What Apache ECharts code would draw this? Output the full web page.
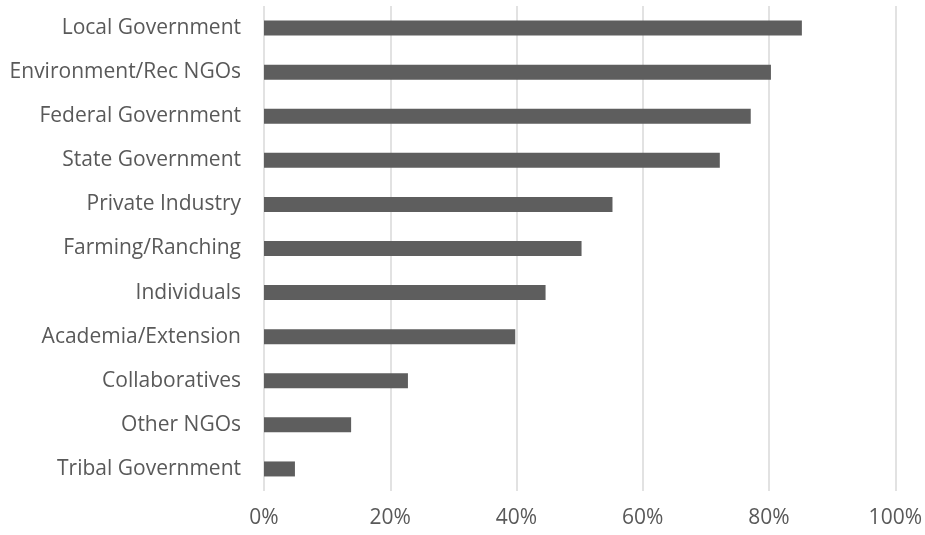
<!DOCTYPE html>
<html><head><meta charset="utf-8">
<script src="https://cdn.jsdelivr.net/npm/echarts@6/dist/echarts.min.js"></script>
<style>html,body{margin:0;padding:0;background:#fff}#c{width:925px;height:535px}</style>
</head><body><div id="c"></div>
<script>
var categories = ["Local Government","Environment/Rec NGOs","Federal Government","State Government","Private Industry","Farming/Ranching","Individuals","Academia/Extension","Collaboratives","Other NGOs","Tribal Government"];
var values = [85.2, 80.3, 77.1, 72.2, 55.2, 50.3, 44.6, 39.8, 22.8, 13.8, 4.9];
var xTicks = [0, 20, 40, 60, 80, 100];

var chart = echarts.init(document.getElementById('c'));
chart.setOption({
  animation: false,
  grid: {left: 264, right: 27, top: 6, bottom: 44, containLabel: false},
  xAxis: {
    type: 'value', min: xTicks[0], max: xTicks[xTicks.length - 1], interval: xTicks[1] - xTicks[0],
    axisLine: {show: false}, axisTick: {show: false},
    splitLine: {lineStyle: {color: '#d9d9d9', width: 1.5}},
    axisLabel: {formatter: function(v){return v + '%';}, color: '#595959', fontFamily: 'Open Sans', fontSize: 21, margin: 17}
  },
  yAxis: {
    type: 'category', data: categories.slice().reverse(),
    axisLine: {show: false}, axisTick: {show: false},
    axisLabel: {color: '#595959', fontFamily: 'Open Sans', fontSize: 21, margin: 23}
  },
  series: [{
    type: 'bar', data: values.slice().reverse(), barWidth: 15,
    itemStyle: {color: '#5e5e5e'}
  }]
});
</script></body></html>
